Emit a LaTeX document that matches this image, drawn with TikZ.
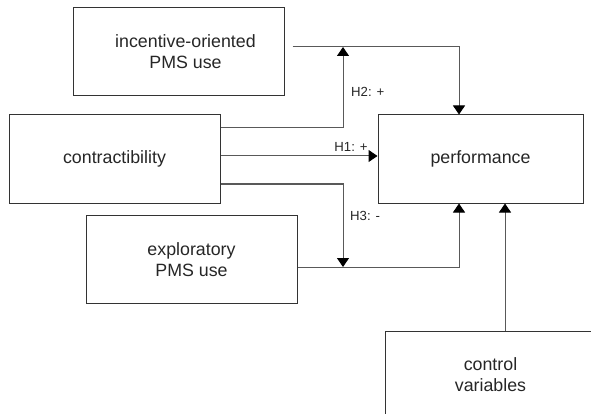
\documentclass[tikz,border=0pt]{standalone}
\usepackage{fontspec}
\setmainfont{Liberation Sans}
\usetikzlibrary{calc, positioning, arrows.meta}

\begin{document}
\begin{tikzpicture}[x=1pt, y=-1pt,
  box/.style={draw=black!80, line width=1pt, minimum width=211pt, minimum height=88pt,
    align=center, inner sep=0pt, text=black!85, font=\fontsize{17.8}{21}\selectfont},
  link/.style={draw=black!65, line width=1pt, -{Triangle[width=12pt,length=9pt,fill=black,color=black]}},
  hyp/.style={text=black!85, inner sep=0pt, font=\fontsize{13.2}{15}\selectfont}]
  \useasboundingbox (0,0) rectangle (591,414);

  % constructs
  \node[box] (inc) at (178.5,52) {\hspace*{14pt}incentive-oriented\\\hspace*{14pt}PMS use};
  \node[box] (con) at (114.5,159) {contractibility};
  \node[box, minimum width=205pt] (perf) at (480.5,159) {performance};
  \node[box] (exp) at (191.5,259.5) {exploratory\\PMS use};
  \node[box] (ctl) at (490.5,375) {control\\variables};

  % moderation points
  \coordinate (m2) at (343,47);
  \coordinate (m3) at (343,267);

  % paths
  \draw[link, shorten <=8pt] ([yshift=5]inc.east) -| ([xshift=-21.5]perf.north);
  \draw[link] ([yshift=31]con.east) -| (m2);
  \draw[link] ([yshift=3]con.east) -- ([yshift=3]perf.west);
  \draw[link] ([yshift=-25]con.east) -| (m3);
  \draw[link] ([yshift=-7.5]exp.east) -| ([xshift=-21.5]perf.south);
  \draw[link] ([xshift=14.5]ctl.north) -- ([xshift=14.5]ctl.north |- perf.south);

  % hypotheses
  \node[hyp, anchor=west] (h2) at (351,92) {H2: +};
  \node[hyp] (h1) at (351,147) {H1: +};
  \node[hyp, anchor=west] (h3) at (350,216) {H3: -};
\end{tikzpicture}
\end{document}
